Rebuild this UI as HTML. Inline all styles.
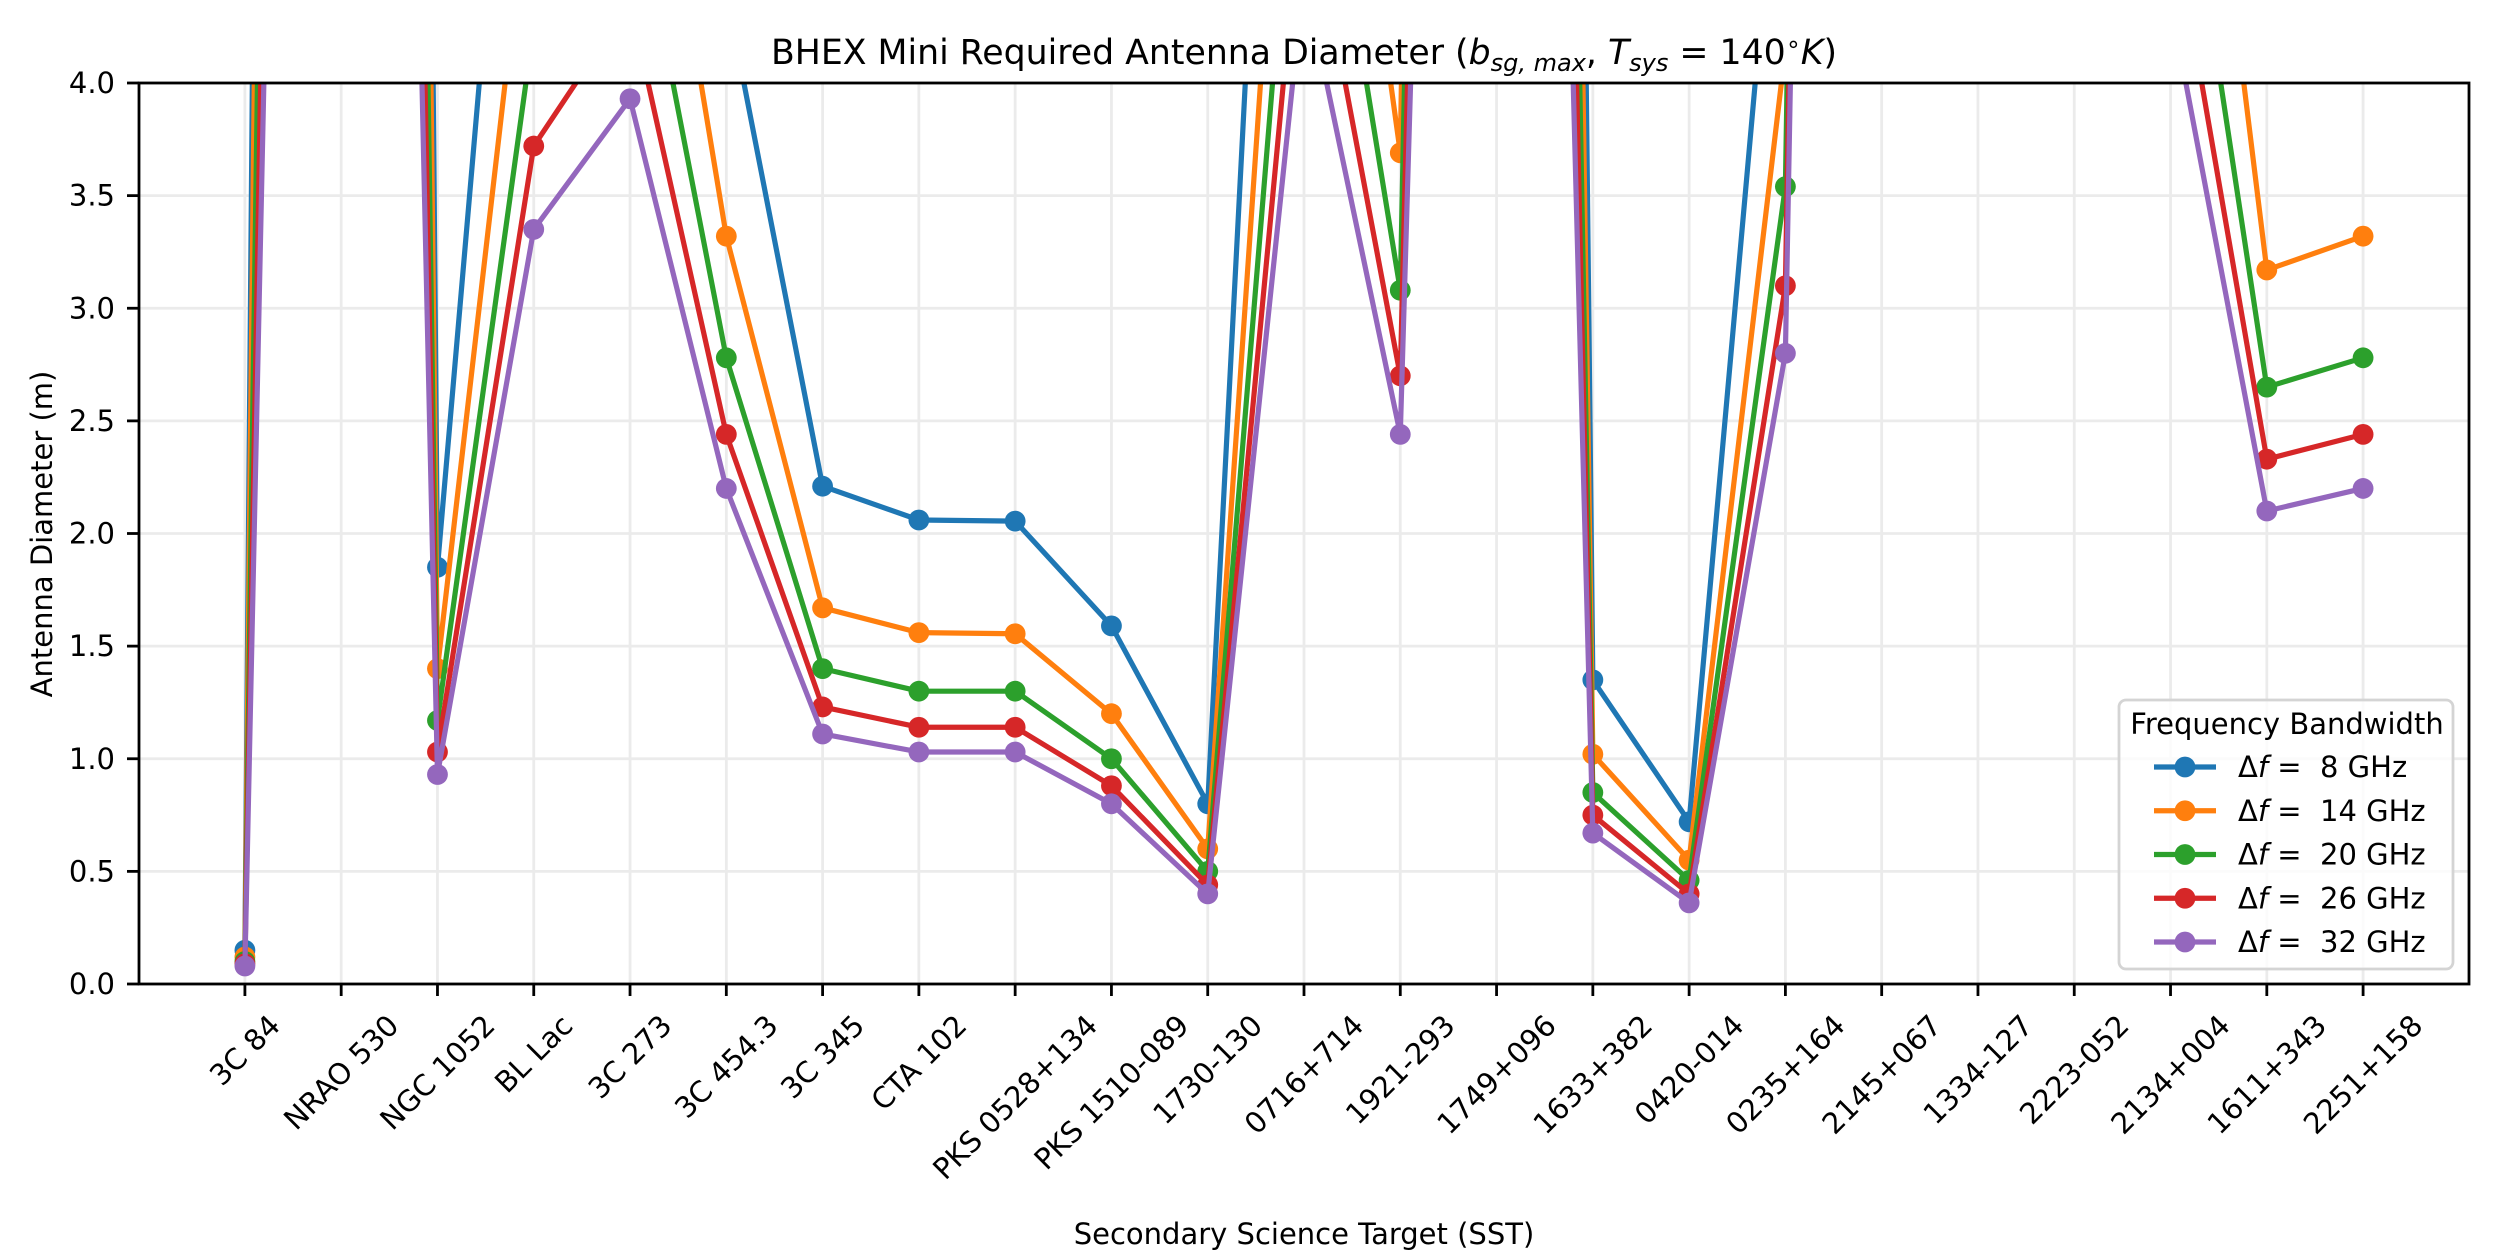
<!DOCTYPE html>
<html><head><meta charset="utf-8">
<style>
html,body{margin:0;padding:0;background:#fff;}
svg{display:block;font-family:"DejaVu Sans","Liberation Sans",sans-serif;}
</style></head>
<body>
<svg id="chart" width="2500" height="1250" viewBox="0 0 2500 1250" xmlns="http://www.w3.org/2000/svg">
<defs><clipPath id="plotclip"><rect x="139" y="83" width="2330" height="901"/></clipPath></defs>
<rect x="0" y="0" width="2500" height="1250" fill="#fff"/>
<g id="grid"></g>
<g id="series" clip-path="url(#plotclip)"></g>
<g id="axes"></g>
<text x="1304" y="64" font-size="34.7" text-anchor="middle">BHEX Mini Required Antenna Diameter (<tspan font-style="italic">b</tspan><tspan font-style="italic" font-size="24" dy="7">sg, max</tspan><tspan dy="-7">, </tspan><tspan font-style="italic">T</tspan><tspan font-style="italic" font-size="24" dy="7">sys</tspan><tspan dy="-7"> = 140</tspan><tspan font-size="24" dy="-12">∘</tspan><tspan font-style="italic" dy="12">K</tspan>)</text>
<text x="0" y="0" font-size="29" text-anchor="middle" transform="translate(52,534) rotate(-90)">Antenna Diameter (m)</text>
<text x="1304" y="1244" font-size="29" text-anchor="middle">Secondary Science Target (SST)</text>
<g id="legend"></g>
</svg>
<script>
const categories = ["3C 84","NRAO 530","NGC 1052","BL Lac","3C 273","3C 454.3","3C 345","CTA 102","PKS 0528+134","PKS 1510-089","1730-130","0716+714","1921-293","1749+096","1633+382","0420-014","0235+164","2145+067","1334-127","2223-052","2134+004","1611+343","2251+158"];
const bandwidths = [8, 14, 20, 26, 32];
const seriesColors = ["#1f77b4","#ff7f0e","#2ca02c","#d62728","#9467bd"];
const bw8  = [0.15, 50, 1.85, 6.8, 6.0, 4.4, 2.21, 2.06, 2.055, 1.59, 0.80, 9.0, 6.0, 40, 1.35, 0.72, 5.5, 40, null, null, 8.0, 5.0, 5.3];
const bw14 = [0.12, 40, 1.40, 5.1, 5.9, 3.32, 1.67, 1.56, 1.555, 1.20, 0.60, 6.8, 3.69, 30, 1.02, 0.55, 4.15, 35, null, null, 6.64, 3.17, 3.32];
const bw20 = [0.10, 30, 1.17, 4.25, 4.98, 2.78, 1.40, 1.30, 1.30, 1.00, 0.50, 5.7, 3.08, 24, 0.85, 0.46, 3.54, 30, null, null, 5.47, 2.65, 2.78];
const bw26 = [0.09, 24, 1.03, 3.72, 4.36, 2.44, 1.23, 1.14, 1.14, 0.88, 0.44, 4.97, 2.70, 20, 0.75, 0.40, 3.10, 28, null, null, 4.80, 2.33, 2.44];
const bw32 = [0.08, 20, 0.93, 3.35, 3.93, 2.20, 1.11, 1.03, 1.03, 0.80, 0.40, 4.48, 2.44, 17, 0.67, 0.36, 2.80, 26, null, null, 4.36, 2.10, 2.20];
const seriesValues = [bw8, bw14, bw20, bw26, bw32];
const yTicks = [0.0, 0.5, 1.0, 1.5, 2.0, 2.5, 3.0, 3.5, 4.0];
const yTickLabels = ["0.0","0.5","1.0","1.5","2.0","2.5","3.0","3.5","4.0"];

const NS = "http://www.w3.org/2000/svg";
const PL = 139, PR = 2469, PT = 83, PB = 984;
const XMIN = -1.1, XMAX = 23.1, YMIN = 0, YMAX = 4;
const FS = 29;
function xs(i){ return PL + (i - XMIN) / (XMAX - XMIN) * (PR - PL); }
function ys(v){ return PB - (v - YMIN) / (YMAX - YMIN) * (PB - PT); }
function mk(tag, attrs, parent){ const e = document.createElementNS(NS, tag); for (const k in attrs) e.setAttribute(k, attrs[k]); parent.appendChild(e); return e; }

const grid = document.getElementById('grid');
const axes = document.getElementById('axes');
const series = document.getElementById('series');
const legend = document.getElementById('legend');

categories.forEach((c, i) => {
  const g = mk('line', {x1: xs(i), x2: xs(i), y1: PT, y2: PB, stroke: '#ebebeb', 'stroke-width': 2.8}, grid);
  
  
});
yTicks.forEach((t) => {
  const g = mk('line', {x1: PL, x2: PR, y1: ys(t), y2: ys(t), stroke: '#ebebeb', 'stroke-width': 2.8}, grid);
  
  
});

seriesValues.forEach((vals, s) => {
  let d = '', pen = false;
  vals.forEach((v, i) => {
    if (v === null) { pen = false; return; }
    d += (pen ? 'L' : 'M') + xs(i).toFixed(2) + ' ' + ys(v).toFixed(2) + ' ';
    pen = true;
  });
  const p = mk('path', {d: d, fill: 'none', stroke: seriesColors[s], 'stroke-width': 5.2, 'stroke-linejoin': 'round', 'stroke-linecap': 'butt'}, series);
  
  
  vals.forEach((v, i) => {
    if (v === null) return;
    const c = mk('circle', {cx: xs(i), cy: ys(v), r: 10.4, fill: seriesColors[s]}, series);
    
    
  });
});

const frame = mk('rect', {x: PL, y: PT, width: PR - PL, height: PB - PT, fill: 'none', stroke: '#000', 'stroke-width': 2.8}, axes);



yTicks.forEach((t, k) => {
  const tk = mk('line', {x1: PL - 12, x2: PL, y1: ys(t), y2: ys(t), stroke: '#000', 'stroke-width': 2.8}, axes);
  
  
  const tx = mk('text', {x: PL - 24, y: ys(t), 'font-size': FS, 'text-anchor': 'end', 'dominant-baseline': 'central'}, axes);
  tx.textContent = yTickLabels[k];
  
  
});

categories.forEach((c, i) => {
  const tk = mk('line', {x1: xs(i), x2: xs(i), y1: PB, y2: PB + 12, stroke: '#000', 'stroke-width': 2.8}, axes);
  
  
  const tx = mk('text', {x: 0, y: 0, 'font-size': FS, 'text-anchor': 'middle', 'dominant-baseline': 'central'}, axes);
  tx.textContent = c;
  
  
  const w = tx.getComputedTextLength();
  const half = (w + FS) / (2 * Math.SQRT2);
  tx.setAttribute('transform', 'translate(' + xs(i).toFixed(2) + ',' + (1010 + half).toFixed(2) + ') rotate(-45)');
});

const lb = mk('rect', {x: 2119, y: 700, width: 334, height: 269, rx: 7, fill: '#fff', 'fill-opacity': 0.8, stroke: '#d4d4d4', 'stroke-width': 2.8}, legend);


const lt = mk('text', {x: 2287, y: 724, 'font-size': FS, 'text-anchor': 'middle', 'dominant-baseline': 'central'}, legend);
lt.textContent = 'Frequency Bandwidth';


bandwidths.forEach((b, s) => {
  const y = 767 + s * 43.75;
  const g = mk('g', {}, legend);
  
  
  mk('line', {x1: 2154, x2: 2216, y1: y, y2: y, stroke: seriesColors[s], 'stroke-width': 5.2}, g);
  mk('circle', {cx: 2185, cy: y, r: 10.4, fill: seriesColors[s]}, g);
  const t = mk('text', {x: 2238, y: y, 'font-size': FS, 'dominant-baseline': 'central'}, g);
  t.innerHTML = 'Δ<tspan font-style="italic">f</tspan> = \u00a0' + b + ' GHz';
});
</script>
</body></html>
